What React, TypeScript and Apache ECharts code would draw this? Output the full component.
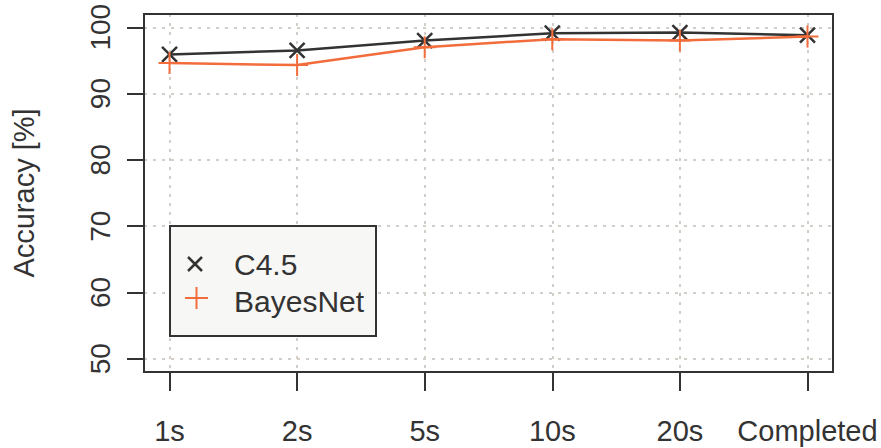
import React, { useEffect, useRef } from "react";
import * as echarts from "echarts";

const categories = ["1s", "2s", "5s", "10s", "20s", "Completed"];
const seriesNames = ["C4.5", "BayesNet"];
const c45Values = [95.9, 96.5, 98.0, 99.1, 99.2, 98.8];
const bayesValues = [94.6, 94.3, 97.0, 98.2, 98.0, 98.6];
const yMin = 50;
const yMax = 100;
const yStep = 10;
const yName = "Accuracy [%]";

const DARK = "#333333";
const ORANGE = "#F26C3C";
const GRIDC = "#d3cec8";
const FONT = "'Liberation Sans', Arial, sans-serif";

const CROSS = "path://M0,0L10,10M10,0L0,10";
const PLUS = "path://M5,0L5,10M0,5L10,5";

export default function App() {
  const ref = useRef<HTMLDivElement>(null);
  useEffect(() => {
    document.body.style.margin = "0";
    const chart = echarts.init(ref.current!, null, { renderer: "svg" });
    const L = 144, T = 14, R = 833, B = 372;
    const yPadUnits = (yMax - yMin) * 0.04;
    const pxPerUnit = (B - T) / (yMax - yMin + 2 * yPadUnits);
    const topVal = T + yPadUnits * pxPerUnit;
    const botVal = B - yPadUnits * pxPerUnit;
    const xSpacing = (R - L) / (categories.length - 1 + 0.4);
    const xFirst = L + 0.2 * xSpacing;
    const xLast = R - 0.2 * xSpacing;

    chart.setOption({
      animation: false,
      textStyle: { fontFamily: FONT },
      grid: [
        { left: L, top: topVal, width: R - L, height: botVal - topVal, containLabel: false },
        { left: xFirst, top: T, width: xLast - xFirst, height: B - T, containLabel: false },
      ],
      xAxis: [
        { gridIndex: 0, type: "value", show: false, min: 0, max: 1 },
        {
          gridIndex: 1,
          type: "category",
          data: categories,
          boundaryGap: false,
          axisLine: { show: true, lineStyle: { color: DARK, width: 2 } },
          axisTick: { show: true, length: 19, lineStyle: { color: DARK, width: 2 }, alignWithLabel: true },
          axisLabel: { color: DARK, fontSize: 29, fontFamily: FONT, margin: 44, interval: 0 },
          splitLine: { show: true, lineStyle: { color: GRIDC, width: 2, type: [3, 6] } },
        },
      ],
      yAxis: [
        {
          gridIndex: 0,
          type: "value",
          min: yMin,
          max: yMax,
          interval: yStep,
          axisLine: { show: true, lineStyle: { color: DARK, width: 2 } },
          axisTick: { show: true, length: 17, lineStyle: { color: DARK, width: 2 } },
          axisLabel: { color: DARK, fontSize: 28, fontFamily: FONT, rotate: 90, margin: 30 },
          splitLine: { show: true, lineStyle: { color: GRIDC, width: 2, type: [3, 6] } },
          name: yName,
          nameLocation: "middle",
          nameRotate: 90,
          nameGap: 106,
          nameTextStyle: { color: DARK, fontSize: 29, fontFamily: FONT },
        },
        {
          gridIndex: 1,
          type: "value",
          show: false,
          min: yMin - yPadUnits,
          max: yMax + yPadUnits,
        },
      ],
      series: [
        {
          name: seriesNames[0],
          type: "line",
          xAxisIndex: 1,
          yAxisIndex: 1,
          data: c45Values,
          symbol: CROSS,
          symbolSize: 15,
          lineStyle: { color: DARK, width: 2.5 },
          itemStyle: { color: "none", borderColor: DARK, borderWidth: 2.5 },
          z: 3,
        },
        {
          name: seriesNames[1],
          type: "line",
          xAxisIndex: 1,
          yAxisIndex: 1,
          data: bayesValues,
          symbol: PLUS,
          symbolSize: 22,
          lineStyle: { color: ORANGE, width: 2.5 },
          itemStyle: { color: "none", borderColor: ORANGE, borderWidth: 2 },
          z: 4,
        },
      ],
      graphic: [
        {
          type: "rect",
          shape: { x: L, y: T, width: R - L, height: B - T },
          style: { fill: "none", stroke: DARK, lineWidth: 2 },
          z: 10,
          silent: true,
        },
        {
          type: "rect",
          shape: { x: 170, y: 226, width: 206, height: 110 },
          style: { fill: "#f7f7f5", stroke: DARK, lineWidth: 2 },
          z: 20,
        },
        { type: "line", z: 21, shape: { x1: 188, y1: 257, x2: 202, y2: 271 }, style: { stroke: DARK, lineWidth: 2.5 } },
        { type: "line", z: 21, shape: { x1: 188, y1: 271, x2: 202, y2: 257 }, style: { stroke: DARK, lineWidth: 2.5 } },
        { type: "line", z: 21, shape: { x1: 185, y1: 298, x2: 208, y2: 298 }, style: { stroke: ORANGE, lineWidth: 2 } },
        { type: "line", z: 21, shape: { x1: 196.5, y1: 287, x2: 196.5, y2: 309 }, style: { stroke: ORANGE, lineWidth: 2 } },
        {
          type: "text",
          z: 21,
          x: 234,
          y: 264,
          style: { text: seriesNames[0], fill: DARK, font: `30px ${FONT}`, verticalAlign: "middle" },
        },
        {
          type: "text",
          z: 21,
          x: 234,
          y: 301,
          style: { text: seriesNames[1], fill: DARK, font: `30px ${FONT}`, verticalAlign: "middle" },
        },
      ],
    });
    return () => chart.dispose();
  }, []);
  return <div ref={ref} style={{ width: 881, height: 448 }} />;
}
